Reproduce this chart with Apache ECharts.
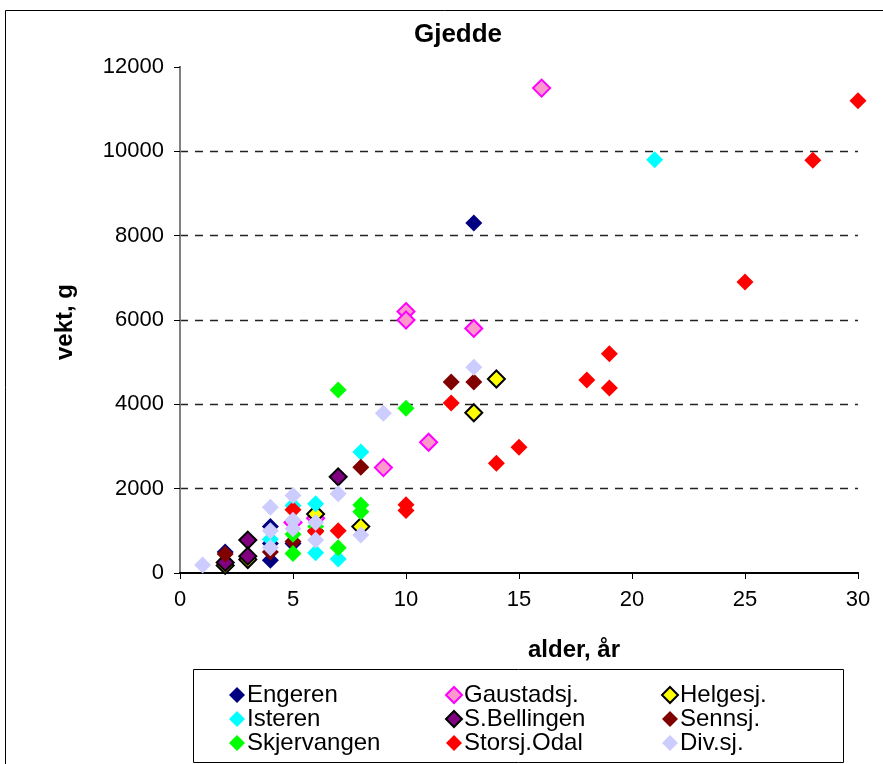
<!DOCTYPE html>
<html>
<head>
<meta charset="utf-8">
<script src="https://cdn.jsdelivr.net/npm/echarts@6/dist/echarts.min.js"></script>
<style>
html,body{margin:0;padding:0;background:#fff;}
#chart{width:883px;height:764px;}
</style>
</head>
<body>
<div id="chart"></div>
<script>
// ---- data: [alder (år), vekt (g)] ----
var seriesNames = ['Engeren','Gaustadsj.','Helgesj.','Isteren','S.Bellingen','Sennsj.','Skjervangen','Storsj.Odal','Div.sj.'];
var engeren     = [[2,500],[4,1100],[4,300],[4,700],[5,700],[13,8300]];
var gaustadsj   = [[16,11500],[10,6200],[10,6000],[13,5800],[11,3100],[9,2500],[5,1200],[6,1300]];
var helgesj     = [[14,4600],[13,3800],[8,1100],[6,1400],[2,180],[3,320]];
var isteren     = [[21,9800],[8,2870],[6,1640],[6,480],[7,330],[5,1600],[4,800]];
var sBellingen  = [[7,2280],[3,780],[3,400],[2,250]];
var sennsj      = [[12,4530],[13,4530],[8,2510],[2,450],[4,500],[5,750],[6,1000]];
var skjervangen = [[7,4340],[10,3910],[8,1610],[8,1450],[7,600],[5,460],[5,920],[6,1100]];
var storsjOdal  = [[30,11200],[28,9790],[25,6900],[19,5200],[18,4580],[19,4390],[15,2980],[14,2600],[12,4030],[10,1620],[10,1480],[7,1000],[6,980],[5,1500]];
var divSj       = [[13,4880],[9,3790],[7,1880],[5,1840],[4,1560],[8,900],[1,190],[4,1000],[4,600],[5,1250],[5,1050],[6,1200],[6,780]];
var xTicks = [0,5,10,15,20,25,30];
var yTicks = [0,2000,4000,6000,8000,10000,12000];

var FONT = '"Liberation Sans", Arial, sans-serif';
var styles = [
  {color:'#000080'},
  {color:'#FF99CC', borderColor:'#FF00FF', borderWidth:2},
  {color:'#FFFF00', borderColor:'#000000', borderWidth:2},
  {color:'#00FFFF'},
  {color:'#800080', borderColor:'#000000', borderWidth:2},
  {color:'#800000'},
  {color:'#00FF00'},
  {color:'#FF0000'},
  {color:'#CCCCFF'}
];
var datas = [engeren,gaustadsj,helgesj,isteren,sBellingen,sennsj,skjervangen,storsjOdal,divSj];

var series = seriesNames.map(function(n,i){
  var st = Object.assign({opacity:1}, styles[i]);
  return {
    name:n, type:'scatter', symbol:'diamond', symbolSize:17,
    data:datas[i], itemStyle:st, emphasis:{disabled:true},
    animation:false, z: 2+i
  };
});

function legendCol(names,left){
  return {
    orient:'vertical', left:left, top:678, itemGap:0,
    itemWidth:16, itemHeight:16, icon:'diamond', selectedMode:false,
    data:names,
    textStyle:{fontFamily:FONT, fontSize:24, color:'#000', lineHeight:24, padding:[0,0,0,-3]}
  };
}

var chart = echarts.init(document.getElementById('chart'), null, {renderer:'canvas'});
chart.setOption({
  backgroundColor:'#fff',
  animation:false,
  title:{text:'Gjedde', left:453, top:17, textAlign:'center',
    textStyle:{fontFamily:FONT, fontSize:26, fontWeight:'bold', color:'#000'}},
  grid:{left:180, right:25, top:67, bottom:191},
  xAxis:[{
    type:'value', min:xTicks[0], max:xTicks[xTicks.length-1], interval:5,
    axisLine:{lineStyle:{color:'#000', width:2}},
    axisTick:{show:true, inside:false, length:6, lineStyle:{color:'#000'}},
    axisLabel:{fontFamily:FONT, fontSize:22, color:'#000', margin:16},
    splitLine:{show:false}
  },{
    type:'value', position:'top', min:0, max:30,
    axisLine:{show:true, lineStyle:{color:'#000', width:2}},
    axisTick:{show:false}, axisLabel:{show:false}, splitLine:{show:false}
  }],
  yAxis:[{
    type:'value', min:yTicks[0], max:yTicks[yTicks.length-1], interval:2000,
    axisLine:{show:true, lineStyle:{color:'#000', width:2}},
    axisTick:{show:true, inside:false, length:6, lineStyle:{color:'#000'}},
    axisLabel:{fontFamily:FONT, fontSize:22, color:'#000', margin:16,
      formatter:function(v){return String(v);}},
    splitLine:{show:true, showMinLine:false, showMaxLine:false,
      lineStyle:{color:'#222', type:[8,7], width:1.3}}
  },{
    type:'value', position:'right', min:0, max:12000,
    axisLine:{show:true, lineStyle:{color:'#808080', width:2}},
    axisTick:{show:false}, axisLabel:{show:false}, splitLine:{show:false}
  }],
  legend:[
    legendCol(['Engeren','Isteren','Skjervangen'], 224),
    legendCol(['Gaustadsj.','S.Bellingen','Storsj.Odal'], 440),
    legendCol(['Helgesj.','Sennsj.','Div.sj.'], 656)
  ],
  graphic:[
    {type:'rect', shape:{x:5.5, y:10.5, width:1000, height:1000},
      style:{fill:'none', stroke:'#000', lineWidth:1}, silent:true, z:-10},
    {type:'rect', shape:{x:193.5, y:669.5, width:650, height:93},
      style:{fill:'#fff', stroke:'#000', lineWidth:1}, silent:true, z:-5},
    {type:'text', style:{text:'alder, år', x:574, y:650, textAlign:'center', textVerticalAlign:'middle',
      font:'bold 24px '+FONT, fill:'#000'}},
    {type:'text', rotation:Math.PI/2, x:65, y:322, style:{text:'vekt, g', x:0, y:0, textAlign:'center', textVerticalAlign:'middle',
      font:'bold 24px '+FONT, fill:'#000'}}
  ],
  series:series
});
</script>
</body>
</html>
